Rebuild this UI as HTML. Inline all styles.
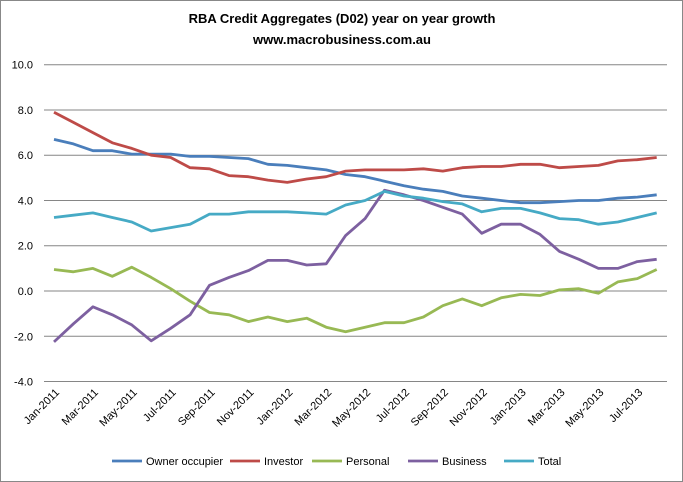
<!DOCTYPE html>
<html><head><meta charset="utf-8"><style>
body{margin:0;background:#fff;font-family:"Liberation Sans",sans-serif}
</style></head><body>
<svg id="c" width="683" height="482" style="display:block">
<rect x="0.5" y="0.5" width="682" height="481" fill="#fff" stroke="#888"/>
<text x="342" y="23" text-anchor="middle" font-size="13" font-weight="bold">RBA Credit Aggregates (D02) year on year growth</text>
<text x="342" y="44" text-anchor="middle" font-size="13" font-weight="bold">www.macrobusiness.com.au</text>
<g id="grid"></g><g id="series"></g><g id="xl"></g><g id="legend"></g>
</svg>
<script>
const months=["Jan-2011","Feb-2011","Mar-2011","Apr-2011","May-2011","Jun-2011","Jul-2011","Aug-2011","Sep-2011","Oct-2011","Nov-2011","Dec-2011","Jan-2012","Feb-2012","Mar-2012","Apr-2012","May-2012","Jun-2012","Jul-2012","Aug-2012","Sep-2012","Oct-2012","Nov-2012","Dec-2012","Jan-2013","Feb-2013","Mar-2013","Apr-2013","May-2013","Jun-2013","Jul-2013","Aug-2013"];
const yTicks=[10,8,6,4,2,0,-2,-4];
const owner=[6.7,6.5,6.2,6.2,6.05,6.05,6.05,5.95,5.95,5.9,5.85,5.6,5.55,5.45,5.35,5.15,5.05,4.85,4.65,4.5,4.4,4.2,4.1,4.0,3.9,3.9,3.95,4.0,4.0,4.1,4.15,4.25];
const investor=[7.9,7.45,7.0,6.55,6.3,6.0,5.9,5.45,5.4,5.1,5.05,4.9,4.8,4.95,5.05,5.3,5.35,5.35,5.35,5.4,5.3,5.45,5.5,5.5,5.6,5.6,5.45,5.5,5.55,5.75,5.8,5.9];
const personal=[0.95,0.85,1.0,0.65,1.05,0.6,0.1,-0.45,-0.95,-1.05,-1.35,-1.15,-1.35,-1.2,-1.6,-1.8,-1.6,-1.4,-1.4,-1.15,-0.65,-0.35,-0.65,-0.3,-0.15,-0.2,0.05,0.1,-0.1,0.4,0.55,0.95];
const business=[-2.25,-1.45,-0.7,-1.05,-1.5,-2.2,-1.65,-1.05,0.25,0.6,0.9,1.35,1.35,1.15,1.2,2.45,3.2,4.45,4.25,4.0,3.7,3.4,2.55,2.95,2.95,2.5,1.75,1.4,1.0,1.0,1.3,1.4];
const total=[3.25,3.35,3.45,3.25,3.05,2.65,2.8,2.95,3.4,3.4,3.5,3.5,3.5,3.45,3.4,3.8,4.0,4.4,4.2,4.1,3.95,3.85,3.5,3.65,3.65,3.45,3.2,3.15,2.95,3.05,3.25,3.45];
const names=["Owner occupier","Investor","Personal","Business","Total"];
const colors=["#4a7ebb","#be4b48","#98b954","#7d60a0","#46aac5"];
const NS="http://www.w3.org/2000/svg";
const x0=54,x1=656.7,gx0=44,gx1=667;
const X=i=>x0+(x1-x0)*i/(months.length-1);
const Y=v=>291-v*22.63;
function mk(t,a,p){const e=document.createElementNS(NS,t);for(const k in a)e.setAttribute(k,a[k]);p.appendChild(e);return e;}
const grid=document.getElementById('grid');
yTicks.forEach(v=>{
 const l=mk('line',{x1:gx0,x2:gx1,y1:Y(v),y2:Y(v),stroke:'#868686','stroke-width':1},grid);
 
 
 const t=mk('text',{x:33,y:Y(v)+4,'text-anchor':'end','font-size':11},grid);
 t.textContent=v.toFixed(1);
 
 
});
const xl=document.getElementById('xl');
months.forEach((m,i)=>{if(i%2)return;
 const t=mk('text',{x:X(i)+6,y:393,'text-anchor':'end','font-size':11,transform:`rotate(-45 ${X(i)+6} 393)`},xl);
 t.textContent=m;
 
 
});
const sg=document.getElementById('series');
[owner,investor,personal,business,total].forEach((d,k)=>{
 const p=mk('polyline',{points:d.map((v,i)=>X(i).toFixed(1)+','+Y(v).toFixed(1)).join(' '),fill:'none',stroke:colors[k],'stroke-width':2.8,'stroke-linejoin':'round'},sg);
 
 
});
const lg=document.getElementById('legend');
const lx=[112,230,312,408,504];
names.forEach((n,k)=>{
 const g=mk('g',{},lg);
 
 
 mk('line',{x1:lx[k],x2:lx[k]+30,y1:461,y2:461,stroke:colors[k],'stroke-width':2.8},g);
 const t=mk('text',{x:lx[k]+34,y:465,'font-size':11},g);t.textContent=n;
});
</script>
</body></html>
